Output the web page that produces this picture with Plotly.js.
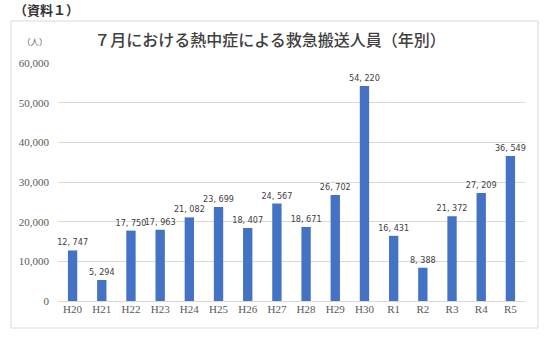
<!DOCTYPE html>
<html><head><meta charset="utf-8">
<script src="https://cdn.plot.ly/plotly-3.0.1.min.js"></script>
<style>html,body{margin:0;padding:0;background:#fff;}#c{width:546px;height:342px;}</style>
</head><body><div id="c"></div>
<script>
var categories = ["H20","H21","H22","H23","H24","H25","H26","H27","H28","H29","H30","R1","R2","R3","R4","R5"];
var values = [12747,5294,17750,17963,21082,23699,18407,24567,18671,26702,54220,16431,8388,21372,27209,36549];
var yTicks = [0,10000,20000,30000,40000,50000,60000];
var titleText = "７月における熱中症による救急搬送人員（年別）";
var unitText = "（人）";
var sourceText = "（資料１）";

function fmt(v){ var s = String(v); return s.length>3 ? s.slice(0,-3)+", "+s.slice(-3) : s; }
var labels = values.map(fmt);

var W=546,H=342,L=58,R=21,T=63,B=41;
var pw=W-L-R, ph=H-T-B;
function px(x){return (x-L)/pw;}
function py(y){return (H-B-y)/ph;}

var trace = {
  type:'bar', x:categories, y:values, text:labels, textposition:'outside', constraintext:'none',
  textfont:{family:'"DejaVu Sans Condensed", "Noto Sans CJK JP", sans-serif', size:9, color:'#404040'},
  marker:{color:'#4472C4'}, cliponaxis:false, hoverinfo:'none'
};
var layout = {
  width:W, height:H, margin:{l:L,r:R,t:T,b:B},
  paper_bgcolor:'#fff', plot_bgcolor:'#fff', showlegend:false, bargap:0.68,
  title:{text:titleText, x:px(270), xanchor:'center', y:1-40/H, yanchor:'middle', xref:'paper',
         font:{family:'"Noto Sans CJK JP", sans-serif', size:16, color:'#404040', weight:500}},
  xaxis:{type:'category', tickfont:{family:'"Liberation Serif", "DejaVu Serif", serif', size:11, color:'#595959'},
         showgrid:false, zeroline:false, showline:false, ticks:'', ticklen:0, automargin:false},
  yaxis:{range:[0,60000], tickvals:yTicks, tickformat:',d', showgrid:true, gridcolor:'#d9d9d9', gridwidth:1,
         zeroline:true, zerolinecolor:'#d9d9d9', showline:false, ticks:'', ticklabelstandoff:8,
         tickfont:{family:'"Liberation Serif", "DejaVu Serif", serif', size:11, color:'#595959'}, automargin:false},
  shapes:[{type:'rect', xref:'paper', yref:'paper', x0:px(11), x1:px(538), y0:py(328), y1:py(21),
           line:{color:'#d9d9d9', width:1}, fillcolor:'rgba(0,0,0,0)', layer:'below'}],
  annotations:[
    {text:unitText, xref:'paper', yref:'paper', x:px(35), y:py(41), xanchor:'center', yanchor:'middle', showarrow:false,
     font:{family:'"Noto Sans CJK JP", sans-serif', size:8.5, color:'#595959'}},
    {text:sourceText, xref:'paper', yref:'paper', x:px(12), y:py(10), xanchor:'left', yanchor:'middle', showarrow:false,
     font:{family:'"Noto Sans CJK JP", sans-serif', size:13, color:'#333', weight:'bold'}}
  ]
};
Plotly.newPlot('c',[trace],layout,{staticPlot:true});
</script></body></html>
